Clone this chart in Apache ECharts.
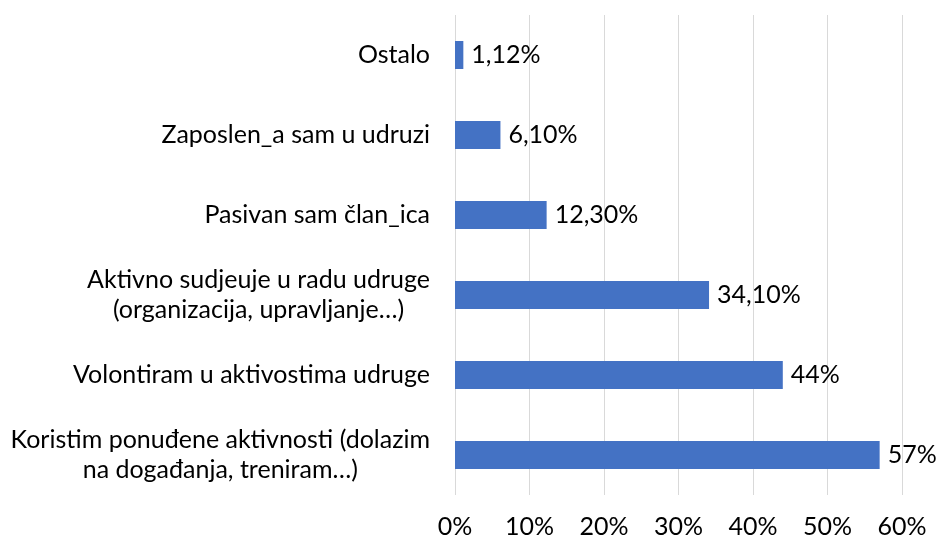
<!DOCTYPE html>
<html>
<head>
<meta charset="utf-8">
<script src="https://cdn.jsdelivr.net/npm/echarts@6/dist/echarts.min.js"></script>
<style>
html,body{margin:0;padding:0;background:#fff;}
#main{width:944px;height:542px;}
</style>
</head>
<body>
<div id="main"></div>
<script>
// kategorije odozdo prema gore (kao u Excelu)
var categories = [
	'Koristim ponuđene aktivnosti (dolazim\nna događanja, treniram…)',
	'Volontiram u aktivostima udruge',
	'Aktivno sudjeuje u radu udruge\n(organizacija, upravljanje…)',
	'Pasivan sam član_ica',
	'Zaposlen_a sam u udruzi',
	'Ostalo'
];
var values = [57, 44, 34.1, 12.3, 6.1, 1.12];
var valueLabels = ['57%', '44%', '34,10%', '12,30%', '6,10%', '1,12%'];
var xTicks = [0, 10, 20, 30, 40, 50, 60];

var FONT = 'Lato';
var FS = 25;

var myChart = echarts.init(document.getElementById('main'));
var option = {
	backgroundColor: '#fff',
	animation: false,
	grid: {
		left: 455,
		right: 42,
		top: 15,
		bottom: 47,
		containLabel: false
	},
	xAxis: {
		type: 'value',
		min: xTicks[0],
		max: xTicks[xTicks.length - 1],
		interval: 10,
		axisLine: { show: false },
		axisTick: { show: false },
		splitLine: { show: true, lineStyle: { color: '#d9d9d9', width: 1 } },
		axisLabel: {
			formatter: function (v) { return v + '%'; },
			color: '#000',
			fontFamily: FONT,
			fontSize: FS,
			margin: 19
		}
	},
	yAxis: {
		type: 'category',
		data: categories,
		axisLine: { show: false },
		axisTick: { show: false },
		axisLabel: {
			color: '#000',
			fontFamily: FONT,
			fontSize: FS,
			lineHeight: 30,
			margin: 25,
			formatter: function (v) {
				return v.split('\n').map(function (s) { return '{c|' + s + '}'; }).join('\n');
			},
			rich: {
				c: { align: 'center', fontFamily: FONT, fontSize: FS, lineHeight: 30, color: '#000' }
			}
		}
	},
	series: [
		{
			type: 'bar',
			data: values,
			barWidth: '35%',
			itemStyle: { color: '#4472c4' },
			label: {
				show: true,
				position: 'right',
				distance: 8,
				color: '#000',
				fontFamily: FONT,
				fontSize: FS,
				formatter: function (p) { return valueLabels[p.dataIndex]; }
			}
		}
	]
};
myChart.setOption(option);
</script>
</body>
</html>
